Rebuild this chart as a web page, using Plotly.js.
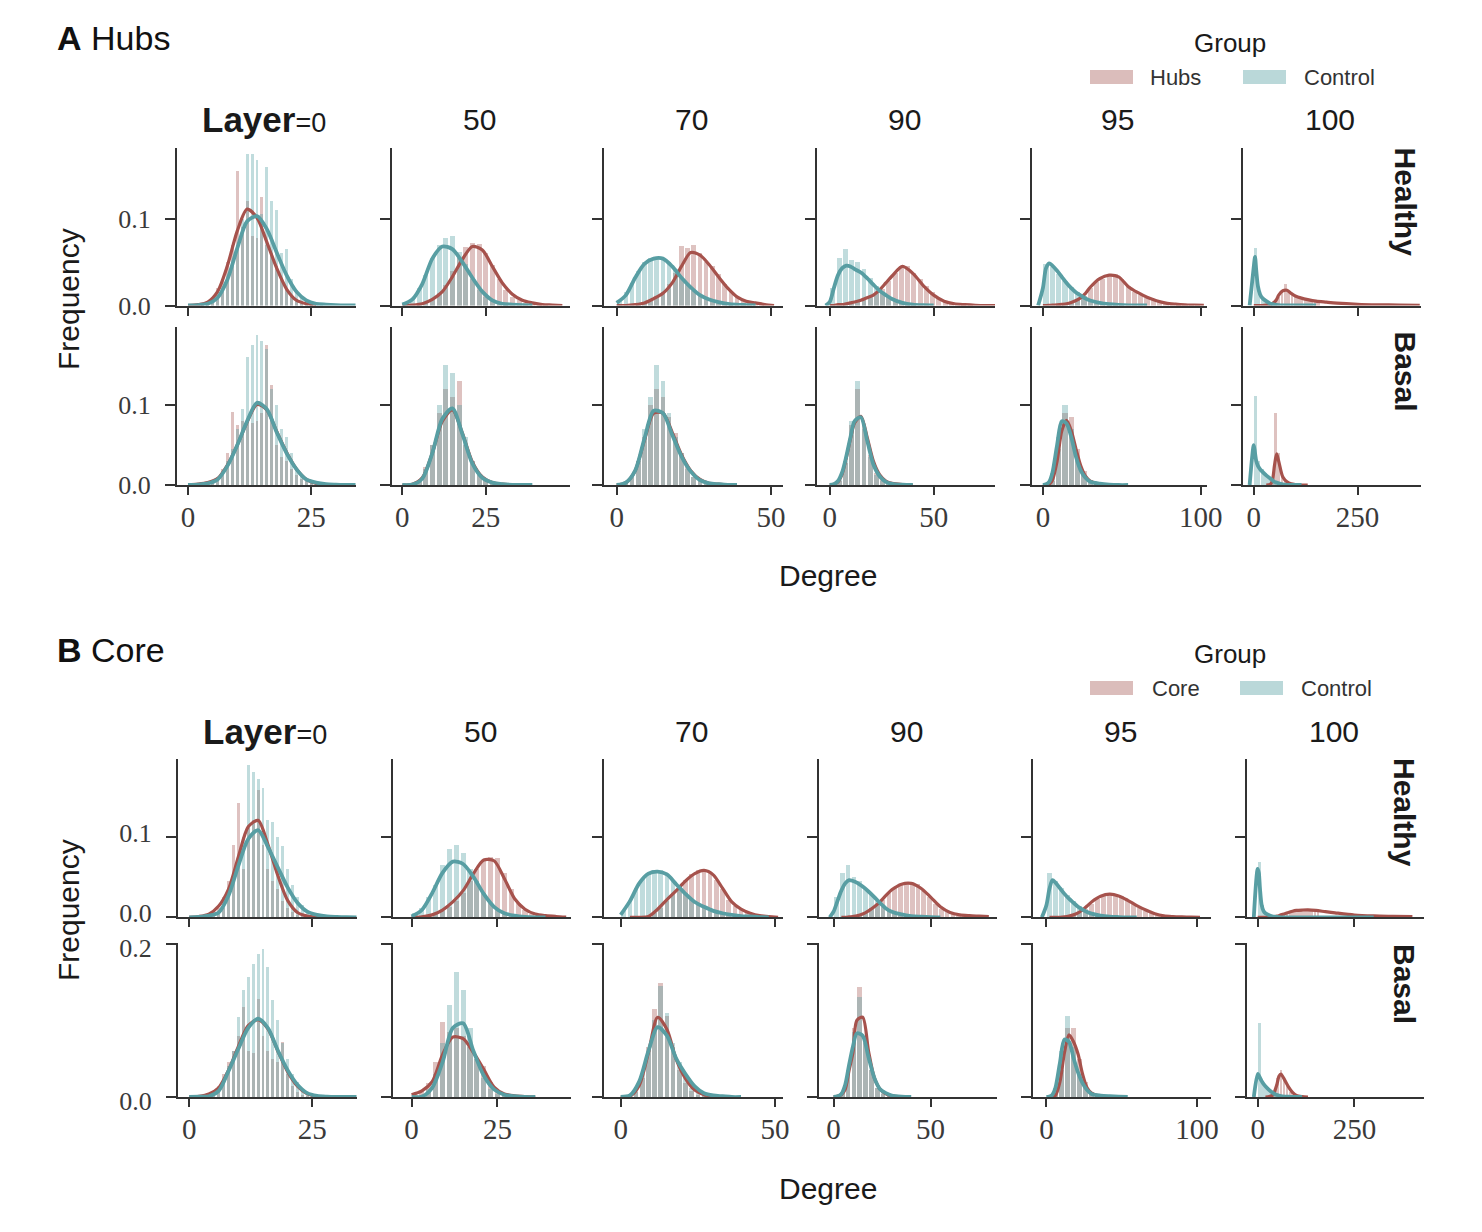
<!DOCTYPE html>
<html><head><meta charset="utf-8">
<script src="https://cdn.plot.ly/plotly-3.0.1.min.js"></script>
<style>html,body{margin:0;padding:0;background:#fff}</style>
</head><body><div id="chart" style="width:1482px;height:1232px"></div>
<script>
// ---------------- categories / labels ----------------
const LAYERS = ['0','50','70','90','95','100'];
const ROW_NAMES = ['Healthy','Basal'];
const PANEL_LETTERS = ['A','B'];
const PANEL_NAMES = ['Hubs','Core'];
const GROUPS_A = ['Hubs','Control'];
const GROUPS_B = ['Core','Control'];
const X_TICKS = [[0,25],[0,25],[0,50],[0,50],[0,100],[0,250]];
const Y_TICKS_A = [[0,0.1],[0,0.1]];
const Y_TICKS_B = [[0,0.1],[0,0.2]];

// ---------------- KDE sample grids (Degree) ----------------
const KX0 = [0,2,4,6,8,10,12,14,16,18,20,22,24,26,28,30,32,34];
const KX1 = [0,3,6,9,12,15,18,21,24,27,30,33,36,39,42,45,48];
const KX2 = [0,3,6,9,12,15,18,21,24,27,30,33,36,39,42,45,48,51];
const KX3 = [-2,0,2,4,6,8,10,12,15,18,21,24,27,30,35,40,45,50,55,60,65,70,75,80];
const KX4 = [-3,0,2,4,6,9,12,15,18,21,24,27,30,36,42,48,54,60,66,72,78,84,90,96,102];
const KX5 = [-10,0,3,6,10,15,20,30,40,45,50,55,60,70,80,90,100,115,130,150,175,200,250,300,350,400];

// ---------------- histogram bin centres (Degree) ----------------
const BX0 = [2,3,4,5,6,7,8,9,10,11,12,13,14,15,16,17,18,19,20,21,22,23,24,25,26,27,28];
const BX1 = [1,3,5,7,9,11,13,15,17,19,21,23,25,27,29,31,33,35,37,39,41,43,45];
const BX2 = [1,3,5,7,9,11,13,15,17,19,21,23,25,27,29,31,33,35,37,39,41,43,45,47,49];
const BX3 = [1.5,4.5,7.5,10.5,13.5,16.5,19.5,22.5,25.5,28.5,31.5,34.5,37.5,40.5,43.5,46.5,49.5,52.5,55.5,58.5,61.5,64.5,67.5,70.5,73.5];
const BX4 = [2,6,10,14,18,22,26,30,34,38,42,46,50,54,58,62,66,70,74,78,82,86,90,94,98,102];
const BX5 = [4,12,20,28,36,44,52,60,68,76,84,92,100,108,116,124,132,140,148,156];

// ================= PANEL A (Hubs) : Healthy =================
const A_H0_kH = [0,0.001,0.004,0.016,0.046,0.086,0.111,0.101,0.073,0.043,0.019,0.006,0.002,0.0005,null,null,null,null];
const A_H0_kC = [0,0.0005,0.002,0.009,0.03,0.066,0.097,0.103,0.088,0.061,0.035,0.016,0.006,0.002,0.001,0.0004,0.0001,0];
const A_H0_bH = [0,0.002,0.005,0.01,0.02,0.03,0.05,0.07,0.155,0.09,0.12,0.08,0.078,0.125,0.07,0.06,0.045,0.03,0.02,0.012,0.008,0.004,0.002,0.001,0,0,0];
const A_H0_bC = [0,0.001,0.002,0.004,0.008,0.015,0.03,0.045,0.07,0.1,0.175,0.175,0.168,0.105,0.16,0.12,0.11,0.06,0.065,0.03,0.018,0.01,0.006,0.004,0.002,0.001,0];
const A_H1_kH = [0,0.0005,0.002,0.007,0.016,0.033,0.053,0.068,0.064,0.045,0.026,0.013,0.006,0.003,0.001,0.0005,0];
const A_H1_kC = [0.001,0.007,0.025,0.054,0.068,0.065,0.05,0.032,0.016,0.006,0.002,0.001,0.0003,0,null,null,null];
const A_H1_bH = [0,0,0.002,0.004,0.008,0.014,0.024,0.04,0.055,0.067,0.072,0.071,0.06,0.047,0.03,0.018,0.01,0.006,0.003,0.002,0.001,0.0005,0];
const A_H1_bC = [0.002,0.008,0.02,0.035,0.055,0.07,0.078,0.08,0.062,0.048,0.03,0.018,0.01,0.005,0.002,0.001,0,0,0,0,0,0,0];
const A_H2_kH = [0,0,0.001,0.003,0.008,0.014,0.026,0.045,0.061,0.058,0.047,0.033,0.02,0.01,0.005,0.003,0.001,0];
const A_H2_kC = [0.003,0.012,0.032,0.048,0.054,0.054,0.045,0.032,0.021,0.012,0.007,0.004,0.002,0.001,0.0005,0,null,null];
const A_H2_bH = [0,0,0,0.001,0.003,0.006,0.01,0.016,0.025,0.038,0.068,0.066,0.07,0.06,0.05,0.045,0.036,0.025,0.015,0.01,0.006,0.004,0.002,0.001,0];
const A_H2_bC = [0.005,0.015,0.026,0.04,0.05,0.055,0.056,0.054,0.05,0.042,0.032,0.024,0.017,0.012,0.008,0.005,0.003,0.002,0.001,0,0,0,0,0,0];
const A_H3_kH = [null,0,0,0.001,0.001,0.002,0.003,0.004,0.006,0.009,0.012,0.018,0.026,0.034,0.045,0.037,0.023,0.012,0.005,0.002,0.001,0.0003,0,0];
const A_H3_kC = [0,0.004,0.02,0.035,0.043,0.046,0.045,0.042,0.038,0.0315,0.024,0.017,0.012,0.0075,0.003,0.001,0.0003,0,null,null,null,null,null,null];
const A_H3_bH = [0,0,0.001,0.002,0.004,0.006,0.009,0.014,0.019,0.028,0.038,0.046,0.045,0.038,0.03,0.022,0.015,0.009,0.005,0.003,0.002,0.001,0.0005,0,0];
const A_H3_bC = [0.02,0.055,0.065,0.052,0.05,0.042,0.032,0.022,0.015,0.01,0.006,0.003,0.002,0.001,0,0,0,0,0,0,0,0,0,0,0];
const A_H4_kH = [null,0,0,0.0002,0.0004,0.0008,0.0013,0.002,0.0035,0.0058,0.009,0.014,0.021,0.031,0.035,0.033,0.022,0.015,0.0095,0.0055,0.0028,0.0016,0.0008,0.0004,0.0001];
const A_H4_kC = [0,0.02,0.043,0.0486,0.046,0.04,0.033,0.026,0.02,0.015,0.0115,0.008,0.0058,0.003,0.0015,0.0007,0.0002,0,0,null,null,null,null,null,null];
const A_H4_bH = [0,0,0.001,0.002,0.003,0.006,0.011,0.02,0.027,0.031,0.034,0.036,0.03,0.022,0.016,0.012,0.009,0.006,0.004,0.003,0.002,0.001,0.001,0.0005,0.0005,0];
const A_H4_bC = [0.048,0.044,0.036,0.028,0.021,0.015,0.01,0.006,0.004,0.003,0.002,0.001,0.001,0,0,0,0,0,0,0,0,0,0,0,0,0];
const A_H5_kH = [null,0,0,0,0,0,0,0.0005,0.0015,0.0025,0.004,0.007,0.012,0.017,0.0175,0.014,0.011,0.0085,0.0068,0.005,0.0038,0.0027,0.0014,0.0008,0.0005,0.0003];
const A_H5_kC = [0,0.045,0.056,0.04,0.022,0.013,0.009,0.005,0.002,0.0015,0.001,0.0006,0.0003,0,0,0,0,0,0,0,null,null,null,null,null,null];
const A_H5_bH = [0,0,0,0,0,0.002,0.004,0.01,0.016,0.025,0.017,0.013,0.011,0.009,0.008,0.007,0.006,0.005,0.005,0.004];
const A_H5_bC = [0.066,0.018,0.009,0.005,0.003,0.002,0.001,0,0,0,0,0,0,0,0,0,0,0,0,0];

// ================= PANEL A (Hubs) : Basal =================
const A_B0_kH = [0,0.001,0.003,0.008,0.025,0.05,0.079,0.101,0.094,0.067,0.041,0.02,0.007,0.002,0.0005,0,null,null];
const A_B0_kC = [0,0.0005,0.002,0.007,0.024,0.05,0.08,0.103,0.095,0.066,0.04,0.02,0.007,0.003,0.001,0.0004,0.0001,0];
const A_B0_bH = [0,0.001,0.003,0.005,0.01,0.02,0.04,0.092,0.075,0.08,0.08,0.078,0.08,0.09,0.175,0.125,0.05,0.035,0.03,0.02,0.012,0.008,0.005,0.003,0.002,0.001,0];
const A_B0_bC = [0,0.001,0.002,0.004,0.008,0.015,0.03,0.045,0.07,0.095,0.16,0.175,0.188,0.18,0.17,0.12,0.1,0.07,0.06,0.04,0.02,0.012,0.007,0.004,0.002,0.001,0];
const A_B1_kH = [0,0.001,0.009,0.04,0.08,0.094,0.065,0.029,0.01,0.003,0.001,0,null,null,null,null,null];
const A_B1_kC = [0,0.0005,0.008,0.04,0.083,0.096,0.064,0.027,0.009,0.003,0.001,0.0002,0,0,null,null,null];
const A_B1_bH = [0,0.001,0.006,0.022,0.05,0.09,0.12,0.11,0.13,0.05,0.03,0.014,0.006,0.003,0.001,0,0,0,0,0,0,0,0];
const A_B1_bC = [0,0.001,0.005,0.02,0.05,0.1,0.15,0.14,0.1,0.06,0.03,0.012,0.005,0.002,0.001,0,0,0,0,0,0,0,0];
const A_B2_kH = [0,0.003,0.018,0.056,0.09,0.09,0.066,0.038,0.018,0.007,0.002,0.001,0,null,null,null,null,null];
const A_B2_kC = [0,0.003,0.018,0.058,0.093,0.09,0.063,0.036,0.017,0.006,0.002,0.001,0.0002,0,null,null,null,null];
const A_B2_bH = [0,0.002,0.01,0.03,0.06,0.1,0.12,0.11,0.085,0.065,0.04,0.022,0.01,0.005,0.002,0.001,0,0,0,0,0,0,0,0,0];
const A_B2_bC = [0,0.002,0.01,0.03,0.07,0.11,0.15,0.13,0.09,0.06,0.04,0.02,0.01,0.005,0.002,0.001,0,0,0,0,0,0,0,0,0];
const A_B3_kH = [null,0,0.001,0.004,0.014,0.034,0.058,0.078,0.086,0.06,0.03,0.013,0.005,0.002,0.0005,0,null,null,null,null,null,null,null,null];
const A_B3_kC = [null,0,0.001,0.005,0.016,0.036,0.06,0.08,0.085,0.056,0.026,0.011,0.004,0.0015,0.0003,0,null,null,null,null,null,null,null,null];
const A_B3_bH = [0.001,0.005,0.028,0.075,0.12,0.075,0.038,0.015,0.006,0.002,0.001,0,0,0,0,0,0,0,0,0,0,0,0,0,0];
const A_B3_bC = [0.001,0.006,0.03,0.08,0.13,0.07,0.035,0.013,0.005,0.002,0.001,0,0,0,0,0,0,0,0,0,0,0,0,0,0];
const A_B4_kH = [null,0,0,0.001,0.006,0.03,0.068,0.081,0.068,0.045,0.024,0.011,0.005,0.001,0.0002,0,null,null,null,null,null,null,null,null,null];
const A_B4_kC = [null,0,0.001,0.004,0.015,0.05,0.08,0.077,0.06,0.035,0.018,0.009,0.004,0.0017,0.0005,0,0,null,null,null,null,null,null,null,null];
const A_B4_bH = [0,0.005,0.045,0.09,0.085,0.045,0.018,0.006,0.002,0.001,0,0,0,0,0,0,0,0,0,0,0,0,0,0,0,0];
const A_B4_bC = [0.001,0.015,0.06,0.1,0.07,0.03,0.012,0.005,0.002,0.001,0,0,0,0,0,0,0,0,0,0,0,0,0,0,0,0];
const A_B5_kH = [null,null,null,null,null,null,null,0,0.001,0.006,0.025,0.039,0.03,0.01,0.004,0.0015,0.0005,0,0,null,null,null,null,null,null,null];
const A_B5_kC = [0,0.05,0.04,0.03,0.024,0.02,0.017,0.012,0.008,0.006,0.004,0.003,0.002,0.0008,0.0002,0,0,0,null,null,null,null,null,null,null,null];
const A_B5_bH = [0,0,0,0,0,0.004,0.09,0.04,0.012,0.005,0.002,0.001,0,0,0,0,0,0,0,0];
const A_B5_bC = [0.111,0.03,0.02,0.015,0.01,0.007,0.004,0.002,0.001,0.0005,0,0,0,0,0,0,0,0,0,0];

// ================= PANEL B (Core) : Healthy =================
const B_H0_kH = [0,0.001,0.004,0.014,0.035,0.075,0.112,0.12,0.09,0.052,0.021,0.006,0.0015,0.0003,0,null,null,null];
const B_H0_kC = [0,0.0005,0.002,0.006,0.027,0.064,0.097,0.108,0.087,0.062,0.037,0.018,0.007,0.003,0.001,0.0004,0.0001,0];
const B_H0_bH = [0,0.001,0.003,0.006,0.012,0.025,0.045,0.09,0.141,0.06,0.11,0.12,0.158,0.09,0.06,0.045,0.035,0.02,0.012,0.006,0.003,0.001,0,0,0,0,0];
const B_H0_bC = [0,0.001,0.002,0.003,0.006,0.012,0.025,0.045,0.07,0.1,0.188,0.18,0.171,0.16,0.12,0.118,0.1,0.088,0.06,0.04,0.025,0.015,0.008,0.004,0.002,0.001,0];
const B_H1_kH = [0,0.0005,0.003,0.009,0.019,0.033,0.054,0.071,0.07,0.048,0.023,0.01,0.004,0.002,0.001,0.0003,null];
const B_H1_kC = [0.001,0.009,0.03,0.055,0.069,0.066,0.05,0.029,0.013,0.005,0.002,0.0005,0,0,null,null,null];
const B_H1_bH = [0,0,0.002,0.004,0.008,0.013,0.02,0.03,0.045,0.06,0.07,0.075,0.074,0.055,0.035,0.018,0.009,0.004,0.002,0.001,0.001,0,0];
const B_H1_bC = [0.005,0.012,0.025,0.04,0.065,0.085,0.09,0.08,0.06,0.045,0.03,0.018,0.009,0.004,0.002,0.001,0,0,0,0,0,0,0];
const B_H2_kH = [null,0,0,0.001,0.01,0.022,0.033,0.045,0.054,0.058,0.0525,0.036,0.019,0.01,0.005,0.002,0.001,0];
const B_H2_kC = [0.003,0.02,0.042,0.054,0.0565,0.053,0.041,0.029,0.019,0.013,0.008,0.005,0.003,0.0015,0.001,0.0003,0,null];
const B_H2_bH = [0,0,0,0,0.002,0.005,0.012,0.02,0.03,0.038,0.046,0.053,0.058,0.06,0.055,0.046,0.035,0.022,0.014,0.009,0.005,0.003,0.002,0.001,0];
const B_H2_bC = [0.008,0.022,0.036,0.048,0.054,0.058,0.058,0.053,0.045,0.038,0.03,0.022,0.016,0.012,0.009,0.006,0.004,0.003,0.002,0.001,0.001,0,0,0,0];
const B_H3_kH = [null,null,null,0,0,0.0005,0.001,0.0017,0.004,0.008,0.013,0.0194,0.027,0.034,0.041,0.042,0.036,0.025,0.013,0.006,0.003,0.002,0.0015,0.001];
const B_H3_kC = [0,0.007,0.02,0.033,0.042,0.046,0.045,0.043,0.038,0.032,0.025,0.0175,0.011,0.007,0.0035,0.0015,0.0008,0.0003,0,null,null,null,null,null];
const B_H3_bH = [0,0,0,0.002,0.004,0.007,0.011,0.016,0.022,0.03,0.036,0.04,0.043,0.043,0.041,0.033,0.025,0.016,0.01,0.006,0.004,0.002,0.001,0.001,0.0005];
const B_H3_bC = [0.025,0.055,0.065,0.05,0.045,0.035,0.028,0.02,0.013,0.008,0.005,0.003,0.002,0.001,0.0005,0,0,0,0,0,0,0,0,0,0];
const B_H4_kH = [null,null,0,0,0,0,0.0005,0.0015,0.003,0.0055,0.009,0.014,0.019,0.026,0.0286,0.0265,0.021,0.0145,0.009,0.0045,0.0018,0.0009,0.0005,0.0003,0];
const B_H4_kC = [0,0.015,0.035,0.046,0.043,0.036,0.029,0.023,0.018,0.013,0.0095,0.0065,0.0045,0.002,0.0008,0.0003,0,0,null,null,null,null,null,null,null];
const B_H4_bH = [0,0,0,0.001,0.002,0.005,0.01,0.017,0.023,0.028,0.03,0.029,0.026,0.022,0.017,0.012,0.008,0.005,0.003,0.002,0.001,0.001,0.0005,0.0005,0,0];
const B_H4_bC = [0.055,0.045,0.036,0.027,0.02,0.014,0.009,0.006,0.004,0.002,0.001,0,0,0,0,0,0,0,0,0,0,0,0,0,0,0];
const B_H5_kH = [null,0,0,0,0,0,0,0.0003,0.0007,0.001,0.0014,0.002,0.003,0.0045,0.006,0.0075,0.0085,0.009,0.0092,0.0085,0.007,0.0055,0.0028,0.0017,0.0012,0.0008];
const B_H5_kC = [0,0.06,0.055,0.035,0.016,0.008,0.005,0.0025,0.001,0.0007,0.0004,0.0002,0,0,0,0,0,0,0,0,0,0,0,0,null,null];
const B_H5_bH = [0,0,0,0,0.0005,0.001,0.0015,0.003,0.004,0.005,0.006,0.007,0.008,0.009,0.009,0.0095,0.009,0.009,0.0085,0.008];
const B_H5_bC = [0.068,0.015,0.005,0.003,0.001,0.0007,0.0004,0,0,0,0,0,0,0,0,0,0,0,0,0];

// ================= PANEL B (Core) : Basal =================
const B_B0_kH = [0,0.001,0.004,0.012,0.035,0.066,0.093,0.101,0.089,0.06,0.033,0.014,0.004,0.001,0.0002,0,null,null];
const B_B0_kC = [0,0.0005,0.001,0.008,0.034,0.063,0.09,0.102,0.09,0.061,0.035,0.016,0.005,0.0015,0.0005,0.0001,0,0];
const B_B0_bH = [0.001,0.002,0.004,0.008,0.015,0.03,0.045,0.06,0.08,0.117,0.06,0.057,0.128,0.08,0.06,0.05,0.045,0.072,0.03,0.015,0.006,0.003,0.001,0,0,0,0];
const B_B0_bC = [0,0.001,0.002,0.004,0.008,0.02,0.04,0.06,0.104,0.139,0.156,0.174,0.187,0.193,0.17,0.126,0.1,0.07,0.05,0.03,0.02,0.01,0.005,0.003,0.001,0,0];
const B_B1_kH = [0.003,0.008,0.02,0.055,0.078,0.076,0.058,0.036,0.013,0.004,0.0015,0.0005,0,null,null,null,null];
const B_B1_kC = [0,0.0005,0.012,0.045,0.09,0.096,0.06,0.028,0.01,0.003,0.001,0,0,null,null,null,null];
const B_B1_bH = [0.003,0.008,0.018,0.045,0.098,0.085,0.09,0.08,0.065,0.05,0.04,0.02,0.008,0.003,0.001,0,0,0,0,0,0,0,0];
const B_B1_bC = [0,0.001,0.01,0.03,0.07,0.12,0.163,0.14,0.09,0.05,0.025,0.01,0.004,0.002,0.001,0,0,0,0,0,0,0,0];
const B_B2_kH = [0,0.001,0.015,0.058,0.104,0.088,0.049,0.024,0.009,0.003,0.001,0,null,null,null,null,null,null];
const B_B2_kC = [0,0.002,0.02,0.06,0.091,0.08,0.05,0.03,0.014,0.005,0.002,0.001,0,0,null,null,null,null];
const B_B2_bH = [0,0.001,0.006,0.025,0.065,0.115,0.148,0.105,0.065,0.035,0.018,0.008,0.003,0.001,0,0,0,0,0,0,0,0,0,0,0];
const B_B2_bC = [0,0.002,0.008,0.03,0.06,0.1,0.145,0.11,0.07,0.045,0.025,0.012,0.005,0.002,0.001,0,0,0,0,0,0,0,0,0,0];
const B_B3_kH = [null,0,0.001,0.003,0.01,0.035,0.058,0.1,0.104,0.06,0.025,0.01,0.004,0.0015,0,null,null,null,null,null,null,null,null,null];
const B_B3_kC = [null,0,0.001,0.004,0.016,0.042,0.066,0.083,0.08,0.052,0.025,0.01,0.005,0.002,0.0005,0,null,null,null,null,null,null,null,null];
const B_B3_bH = [0,0.005,0.03,0.09,0.143,0.08,0.035,0.012,0.004,0.001,0,0,0,0,0,0,0,0,0,0,0,0,0,0,0];
const B_B3_bC = [0,0.006,0.035,0.085,0.13,0.07,0.035,0.012,0.005,0.002,0.001,0,0,0,0,0,0,0,0,0,0,0,0,0,0];
const B_B4_kH = [null,null,0,0.001,0.002,0.02,0.058,0.081,0.072,0.056,0.03,0.012,0.005,0.001,0,null,null,null,null,null,null,null,null,null,null];
const B_B4_kC = [null,0,0.0005,0.003,0.012,0.045,0.075,0.072,0.051,0.032,0.018,0.009,0.004,0.0018,0.001,0.0005,0,null,null,null,null,null,null,null,null];
const B_B4_bH = [0,0.004,0.035,0.09,0.09,0.05,0.02,0.006,0.002,0.001,0,0,0,0,0,0,0,0,0,0,0,0,0,0,0,0];
const B_B4_bC = [0.001,0.012,0.06,0.105,0.065,0.03,0.012,0.005,0.002,0.001,0,0,0,0,0,0,0,0,0,0,0,0,0,0,0,0];
const B_B5_kH = [null,null,null,null,null,null,0,0.0005,0.003,0.009,0.017,0.027,0.03,0.022,0.013,0.006,0.002,0.0005,0,null,null,null,null,null,null,null];
const B_B5_kC = [0,0.03,0.028,0.025,0.021,0.017,0.014,0.009,0.005,0.0035,0.0026,0.0018,0.0012,0.0006,0.0003,0.0001,0,0,null,null,null,null,null,null,null,null];
const B_B5_bH = [0,0,0,0,0.001,0.006,0.025,0.035,0.025,0.014,0.007,0.003,0.001,0,0,0,0,0,0,0];
const B_B5_bC = [0.097,0.02,0.013,0.01,0.007,0.004,0.002,0.001,0,0,0,0,0,0,0,0,0,0,0,0];

// ---------------- assembly ----------------
const KX = [KX0,KX1,KX2,KX3,KX4,KX5];
const BX = [BX0,BX1,BX2,BX3,BX4,BX5];
const cell = (kH,kC,bH,bC) => ({kH,kC,bH,bC});
const PANEL_DATA = [
  [
    [cell(A_H0_kH,A_H0_kC,A_H0_bH,A_H0_bC),cell(A_H1_kH,A_H1_kC,A_H1_bH,A_H1_bC),cell(A_H2_kH,A_H2_kC,A_H2_bH,A_H2_bC),
     cell(A_H3_kH,A_H3_kC,A_H3_bH,A_H3_bC),cell(A_H4_kH,A_H4_kC,A_H4_bH,A_H4_bC),cell(A_H5_kH,A_H5_kC,A_H5_bH,A_H5_bC)],
    [cell(A_B0_kH,A_B0_kC,A_B0_bH,A_B0_bC),cell(A_B1_kH,A_B1_kC,A_B1_bH,A_B1_bC),cell(A_B2_kH,A_B2_kC,A_B2_bH,A_B2_bC),
     cell(A_B3_kH,A_B3_kC,A_B3_bH,A_B3_bC),cell(A_B4_kH,A_B4_kC,A_B4_bH,A_B4_bC),cell(A_B5_kH,A_B5_kC,A_B5_bH,A_B5_bC)]
  ],
  [
    [cell(B_H0_kH,B_H0_kC,B_H0_bH,B_H0_bC),cell(B_H1_kH,B_H1_kC,B_H1_bH,B_H1_bC),cell(B_H2_kH,B_H2_kC,B_H2_bH,B_H2_bC),
     cell(B_H3_kH,B_H3_kC,B_H3_bH,B_H3_bC),cell(B_H4_kH,B_H4_kC,B_H4_bH,B_H4_bC),cell(B_H5_kH,B_H5_kC,B_H5_bH,B_H5_bC)],
    [cell(B_B0_kH,B_B0_kC,B_B0_bH,B_B0_bC),cell(B_B1_kH,B_B1_kC,B_B1_bH,B_B1_bC),cell(B_B2_kH,B_B2_kC,B_B2_bH,B_B2_bC),
     cell(B_B3_kH,B_B3_kC,B_B3_bH,B_B3_bC),cell(B_B4_kH,B_B4_kC,B_B4_bH,B_B4_bC),cell(B_B5_kH,B_B5_kC,B_B5_bH,B_B5_bC)]
  ]
];

// ---------------- geometry & style ----------------
const W = 1482, H = 1232;
const px = v => v / W, py = v => 1 - v / H;
const GEOM = [
  { cols:[[177,356],[392,570],[604,783],[817,995],[1032,1207],[1243,1421]],
    rows:[[148,305.5],[327,485]],
    xr:[[-2.24,34.1],[-3.1,50.3],[-4.1,53.9],[-6.1,79.5],[-6.9,104],[-26,403]],
    yr:[[0,0.1815],[0,0.198]], yt:Y_TICKS_A, yshift:[0,0],
    titleY:38, groupY:43, legY:77, colY:120, rowLabY:[201.5,371.5], freqY:299, degY:575,
    groups:GROUPS_A, legX:[[1090,1133,1148],[1243,1286,1302]] },
  { cols:[[178,357],[393,571],[604,783],[819,997],[1033,1211],[1247,1424]],
    rows:[[759,917.3],[943,1097]],
    xr:[[-2.27,34.1],[-5.4,46.4],[-5.4,52.6],[-7.5,84.2],[-8.9,109.3],[-27.6,430]],
    yr:[[0,0.196],[0,0.2008]], yt:Y_TICKS_B, yshift:[-4,4],
    titleY:650, groupY:654, legY:688, colY:731, rowLabY:[812,984], freqY:910, degY:1188,
    groups:GROUPS_B, legX:[[1090,1133,1150],[1240,1283,1299]] }
];
const BW = [0.6,1.5,1.5,2.4,3.3,7];
const C_HUB = 'rgb(169,97,93)', C_CTL = 'rgb(82,157,160)';
const L_HUB = 'rgb(166,82,76)', L_CTL = 'rgb(88,158,163)';
const SANS = 'Liberation Sans, Arial, sans-serif';
const SERIF = 'Liberation Serif, Times New Roman, serif';
const AXC = '#333';

const data = [];
const layout = {
  width:W, height:H, margin:{l:0,r:0,t:0,b:0},
  paper_bgcolor:'#fff', plot_bgcolor:'rgba(0,0,0,0)',
  showlegend:false, barmode:'overlay', bargap:0,
  annotations:[], shapes:[]
};
let n = 0;
for (let p = 0; p < 2; p++) {
  const G = GEOM[p];
  for (let r = 0; r < 2; r++) {
    for (let c = 0; c < 6; c++) {
      n++;
      const xid = n === 1 ? 'x' : 'x' + n, yid = n === 1 ? 'y' : 'y' + n;
      const xk = n === 1 ? 'xaxis' : 'xaxis' + n, yk = n === 1 ? 'yaxis' : 'yaxis' + n;
      const d = PANEL_DATA[p][r][c];
      data.push({type:'bar', x:BX[c], y:d.bH, width:BW[c], xaxis:xid, yaxis:yid,
        marker:{color:C_HUB, line:{width:0}}, opacity:0.38, hoverinfo:'skip'});
      data.push({type:'bar', x:BX[c], y:d.bC, width:BW[c], xaxis:xid, yaxis:yid,
        marker:{color:C_CTL, line:{width:0}}, opacity:0.36, hoverinfo:'skip'});
      data.push({type:'scatter', mode:'lines', x:KX[c], y:d.kH, xaxis:xid, yaxis:yid,
        line:{color:L_HUB, width:3.2, shape:'spline', smoothing:0.8}, hoverinfo:'skip'});
      data.push({type:'scatter', mode:'lines', x:KX[c], y:d.kC, xaxis:xid, yaxis:yid,
        line:{color:L_CTL, width:3.8, shape:'spline', smoothing:0.8}, hoverinfo:'skip'});
      const xt = X_TICKS[c];
      layout[xk] = {
        domain:[px(G.cols[c][0]), px(G.cols[c][1])], range:G.xr[c], anchor:yid,
        showline:true, linecolor:AXC, linewidth:2, zeroline:false, showgrid:false,
        ticks:'outside', ticklen:8, tickwidth:2, tickcolor:AXC,
        tickvals:xt, ticktext:xt.map(String), showticklabels:r === 1,
        ticklabelstandoff:-3, tickfont:{family:SERIF, size:29, color:'#3a3a3a'}, fixedrange:true
      };
      const yt = G.yt[r];
      layout[yk] = {
        domain:[py(G.rows[r][1]), py(G.rows[r][0])], range:G.yr[r], anchor:xid,
        showline:true, linecolor:AXC, linewidth:2, zeroline:false, showgrid:false,
        ticks:'outside', ticklen:10, tickwidth:2, tickcolor:AXC,
        tickvals:yt, ticktext:yt.map(v => v.toFixed(1)), showticklabels:c === 0,
        ticklabelstandoff:9, ticklabelshift:G.yshift[r],
        tickfont:{family:SERIF, size:26, color:'#3a3a3a'}, fixedrange:true
      };
    }
    // row label
    layout.annotations.push({xref:'paper', yref:'paper', x:px(1405), y:py(G.rowLabY[r]),
      text:'<b>' + ROW_NAMES[r] + '</b>', textangle:90, showarrow:false,
      xanchor:'center', yanchor:'middle', font:{family:SANS, size:30, color:'#1a1a1a'}});
  }
  // column titles
  for (let c = 0; c < 6; c++) {
    const cx = (G.cols[c][0] + G.cols[c][1]) / 2;
    const txt = c === 0 ? '<b>Layer</b><span style="font-size:27px">=' + LAYERS[0] + '</span>' : LAYERS[c];
    layout.annotations.push({xref:'paper', yref:'paper', x:px(c === 0 ? cx - 3 : cx - 2), y:py(G.colY), text:txt,
      showarrow:false, xanchor:'center', yanchor:'middle',
      font:{family:SANS, size:c === 0 ? 35 : 30, color:'#1a1a1a'}});
  }
  // panel title
  layout.annotations.push({xref:'paper', yref:'paper', x:px(55), y:py(G.titleY),
    text:'<b>' + PANEL_LETTERS[p] + '</b> ' + PANEL_NAMES[p], showarrow:false,
    xanchor:'left', yanchor:'middle', font:{family:SANS, size:34, color:'#111'}});
  // axis titles
  layout.annotations.push({xref:'paper', yref:'paper', x:px(68), y:py(G.freqY), text:'Frequency',
    textangle:-90, showarrow:false, xanchor:'center', yanchor:'middle',
    font:{family:SANS, size:30, color:'#1a1a1a'}});
  layout.annotations.push({xref:'paper', yref:'paper', x:px(828), y:py(G.degY), text:'Degree',
    showarrow:false, xanchor:'center', yanchor:'middle',
    font:{family:SANS, size:30, color:'#1a1a1a'}});
  // legend
  layout.annotations.push({xref:'paper', yref:'paper', x:px(1230), y:py(G.groupY), text:'Group',
    showarrow:false, xanchor:'center', yanchor:'middle', font:{family:SANS, size:26, color:'#1a1a1a'}});
  const legCols = ['rgba(169,97,93,0.42)', 'rgba(82,157,160,0.4)'];
  for (let g = 0; g < 2; g++) {
    const L = G.legX[g];
    layout.shapes.push({type:'rect', xref:'paper', yref:'paper', x0:px(L[0]), x1:px(L[1]),
      y0:py(G.legY + 7), y1:py(G.legY - 7), fillcolor:legCols[g], line:{width:0}});
    layout.annotations.push({xref:'paper', yref:'paper', x:px(L[2]), y:py(G.legY), text:G.groups[g],
      showarrow:false, xanchor:'left', yanchor:'middle', font:{family:SANS, size:22, color:'#333'}});
  }
}
Plotly.newPlot('chart', data, layout, {staticPlot:true, displayModeBar:false});
</script>
</body></html>
